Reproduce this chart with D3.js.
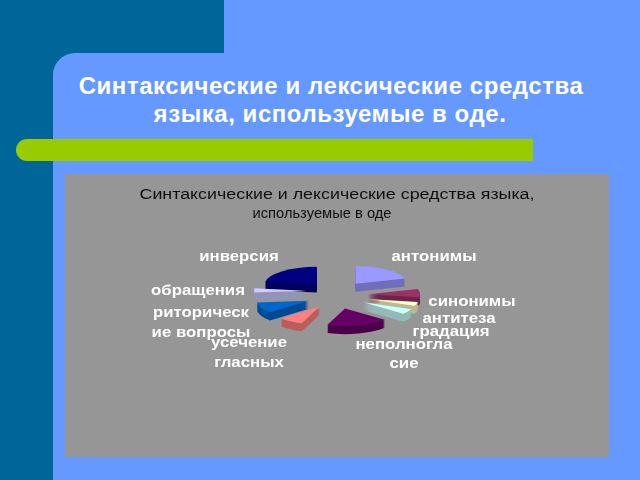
<!DOCTYPE html>
<html>
<head>
<meta charset="utf-8">
<script src="https://cdn.jsdelivr.net/npm/d3@7"></script>
<style>
html, body { margin: 0; padding: 0; background: #6699ff; overflow: hidden; }
svg { display: block; }
</style>
</head>
<body>
<svg id="slide" width="640" height="480"></svg>
<script>
// chart data (clockwise from 12 o'clock)
var categories = ["антонимы", "синонимы", "антитеза", "градация", "неполногласие",
                  "усечение гласных", "риторические вопросы", "обращения", "инверсия"];
var values = [73, 27, 13, 17, 70, 28, 36, 14, 82];
var sliceColors = ["#9999ff", "#993366", "#ffffcc", "#ccffff", "#660066",
                   "#ff8080", "#0066cc", "#ccccff", "#000080"];
var slideTitle = ["Синтаксические и лексические средства", "языка, используемые в оде."];
var chartTitle = ["Синтаксические и лексические средства языка,", "используемые в оде"];

// labels are wrapped by hand like in the original, so each has its own lines
var labelLines = [
    ["антонимы"], ["синонимы"], ["антитеза"], ["градация"], ["неполногла", "сие"],
    ["усечение", "гласных"], ["риторическ", "ие вопросы"], ["обращения"], ["инверсия"]
];
var labelX = [434, 472, 459, 451, 404, 249, 201, 198, 239];
var labelY = [[261], [306], [323], [336], [349, 368], [347, 367], [317, 337], [295], [261]];

var svg = d3.select("#slide");

// the chart in the original is a scaled bitmap, so it is a bit soft
svg.append("filter").attr("id", "soft")
    .append("feGaussianBlur").attr("stdDeviation", 0.4);

// slide background
svg.append("rect").attr("width", 640).attr("height", 480).attr("fill", "#6699ff");
svg.append("path")
    .attr("d", "M0,0H224V53H75A22,22 0 0 0 53,75V480H0Z")
    .attr("fill", "#006699");
svg.append("path")
    .attr("d", "M27,139H533V161H27A11,11 0 0 1 27,139Z")
    .attr("fill", "#99cc00");
svg.append("rect")
    .attr("x", 65).attr("y", 174).attr("width", 544).attr("height", 283)
    .attr("fill", "#969696");

svg.selectAll("text.title")
    .data(slideTitle)
    .enter()
    .append("text")
    .attr("class", "title")
    .attr("x", function(d, i){ return i == 0 ? 331 : 330; })
    .attr("y", function(d, i){ return 94 + i * 28; })
    .attr("text-anchor", "middle")
    .style("font", "bold 24px 'Liberation Sans'")
    .style("letter-spacing", "0.55px")
    .style("fill", "#fff")
    .text(function(d){ return d; });

var inner = svg.append("g").attr("filter", "url(#soft)");

inner.selectAll("text.chart-title")
    .data(chartTitle)
    .enter()
    .append("text")
    .attr("class", "chart-title")
    .attr("x", function(d, i){ return i == 0 ? 337 : 322; })
    .attr("y", function(d, i){ return 199 + i * 19; })
    .attr("text-anchor", "middle")
    .attr("textLength", function(d, i){ return i == 0 ? 395 : 139; })
    .attr("lengthAdjust", "spacingAndGlyphs")
    .style("font", "14px 'Liberation Sans'")
    .style("fill", "#111")
    .text(function(d){ return d; });

// exploded pseudo 3d pie, seen flatter than the slices are pulled apart
var cx = 337, cy = 295, radius = 52, squash = 0.34, explode = 31, explodeFlat = 0.45, depth = 8;

var pie = d3.pie().sort(null).value(function(d){ return d; });
var arc = d3.arc().innerRadius(0).outerRadius(radius);
var slices = pie(values);

slices.forEach(function(d, i){
    var mid = (d.startAngle + d.endAngle) / 2;
    d.index = i;
    d.dx = Math.sin(mid) * explode;
    d.dy = -Math.cos(mid) * explode * explodeFlat;
    // "обращения" sits higher in the original than its angle gives
    if (categories[i] == "обращения") {
        d.dy -= 4;
    }
});

// back slices first so the front ones cover them
var order = slices.slice().sort(function(a, b){ return a.dy - b.dy; });
var layers = d3.range(depth, -1, -1);
var chart = inner.append("g").attr("class", "pie");

order.forEach(function(d){
    chart.selectAll("path.s" + d.index)
        .data(layers)
        .enter()
        .append("path")
        .attr("class", "s" + d.index)
        .attr("transform", function(l){
            return "translate(" + (cx + d.dx) + "," + (cy + d.dy + l) + ") scale(1," + squash + ")";
        })
        .attr("d", arc(d))
        .attr("fill", function(l){
            var c = sliceColors[d.index];
            return l == 0 ? c : d3.color(c).darker(0.9);
        });
});

// labels
labelLines.forEach(function(lines, i){
    inner.selectAll("text.l" + i)
        .data(lines)
        .enter()
        .append("text")
        .attr("class", "l" + i)
        .attr("transform", function(d, j){
            return "translate(" + labelX[i] + "," + labelY[i][j] + ") scale(1.2,1)";
        })
        .attr("text-anchor", "middle")
        .style("font", "bold 14px 'Liberation Sans'")
        .style("fill", "#fff")
        .text(function(d){ return d; });
});
</script>
</body>
</html>
